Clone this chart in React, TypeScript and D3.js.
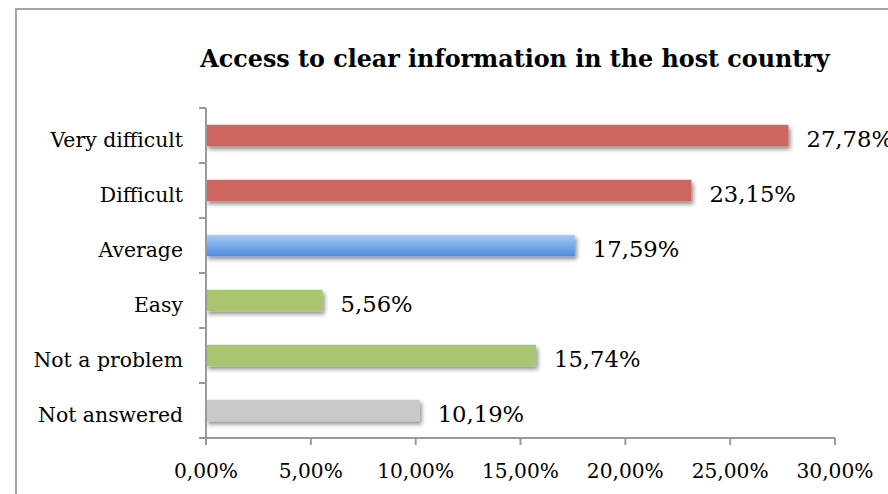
import React from "react";
import * as d3 from "d3";

const categories = ["Very difficult", "Difficult", "Average", "Easy", "Not a problem", "Not answered"];
const values = [0.2778, 0.2315, 0.1759, 0.0556, 0.1574, 0.1019];
const valueLabels = ["27,78%", "23,15%", "17,59%", "5,56%", "15,74%", "10,19%"];
const barFills = ["#cd6660", "#cd6660", "url(#blueGrad)", "#a9c56f", "#a9c56f", "#c9c9c9"];
const xTicks = [0, 0.05, 0.1, 0.15, 0.2, 0.25, 0.3];
const xTickLabels = ["0,00%", "5,00%", "10,00%", "15,00%", "20,00%", "25,00%", "30,00%"];
const title = "Access to clear information in the host country";

const W = 888;
const H = 494;
const FONT = "'DejaVu Serif', serif";

export default function App() {
  const x = d3.scaleLinear().domain([0, 0.3]).range([206, 835]);
  const y = d3.scaleBand<string>().domain(categories).range([108, 438]).padding(0);
  const bw = y.bandwidth();
  const barH = bw * 0.39;
  const boundaries = d3.range(categories.length + 1).map((i) => 108 + i * y.step());
  const axisColor = "#9a9a9a";

  return (
    <div style={{ position: "fixed", left: 0, top: 0, width: W, height: H, background: "#fff" }}>
      <svg width={W} height={H} viewBox={`0 0 ${W} ${H}`} style={{ display: "block" }}>
        <defs>
          <linearGradient id="blueGrad" x1="0" y1="0" x2="0" y2="1">
            <stop offset="0%" stopColor="#a9cbf8" />
            <stop offset="100%" stopColor="#4b8cdb" />
          </linearGradient>
          <filter id="shadow" x="-5%" y="-50%" width="115%" height="220%">
            <feGaussianBlur in="SourceAlpha" stdDeviation="2" />
            <feOffset dx="2" dy="3" result="off" />
            <feComponentTransfer>
              <feFuncA type="linear" slope="0.45" />
            </feComponentTransfer>
            <feMerge>
              <feMergeNode />
              <feMergeNode in="SourceGraphic" />
            </feMerge>
          </filter>
        </defs>
        <rect x={0} y={0} width={W} height={H} fill="#fff" />
        <rect x={16} y={9} width={W + 20} height={H + 20} fill="#fff" stroke="#a6a6a6" strokeWidth={2} />
        <text
          x={515}
          y={67}
          textAnchor="middle"
          fontFamily={FONT}
          fontWeight="bold"
          fontSize={23.8}
          fill="#000"
        >
          {title}
        </text>

        {categories.map((c, i) => {
          const cy = (y(c) as number) + bw / 2;
          return (
            <g key={c}>
              <rect
                x={x(0)}
                y={cy - barH / 2}
                width={x(values[i]) - x(0)}
                height={barH}
                fill={barFills[i]}
                filter="url(#shadow)"
              />
              <text
                x={183}
                y={cy + 11}
                textAnchor="end"
                fontFamily={FONT}
                fontSize={20.4}
                fill="#000"
              >
                {c}
              </text>
              <text
                x={x(values[i]) + 18}
                y={cy + 11}
                textAnchor="start"
                fontFamily={FONT}
                fontSize={22.7}
                fill="#000"
              >
                {valueLabels[i]}
              </text>
            </g>
          );
        })}

        {/* y axis */}
        <line x1={206} y1={108} x2={206} y2={438} stroke={axisColor} strokeWidth={2} />
        {boundaries.map((b, i) => (
          <line key={i} x1={199} y1={b} x2={206} y2={b} stroke={axisColor} strokeWidth={2} />
        ))}
        {/* x axis */}
        <line x1={x(0)} y1={438} x2={x(0.3)} y2={438} stroke={axisColor} strokeWidth={2} />
        {xTicks.map((t, i) => (
          <g key={t}>
            <line x1={x(t)} y1={438} x2={x(t)} y2={445} stroke={axisColor} strokeWidth={2} />
            <text
              x={x(t)}
              y={478}
              textAnchor="middle"
              fontFamily={FONT}
              fontSize={20.2}
              fill="#000"
            >
              {xTickLabels[i]}
            </text>
          </g>
        ))}
      </svg>
    </div>
  );
}
